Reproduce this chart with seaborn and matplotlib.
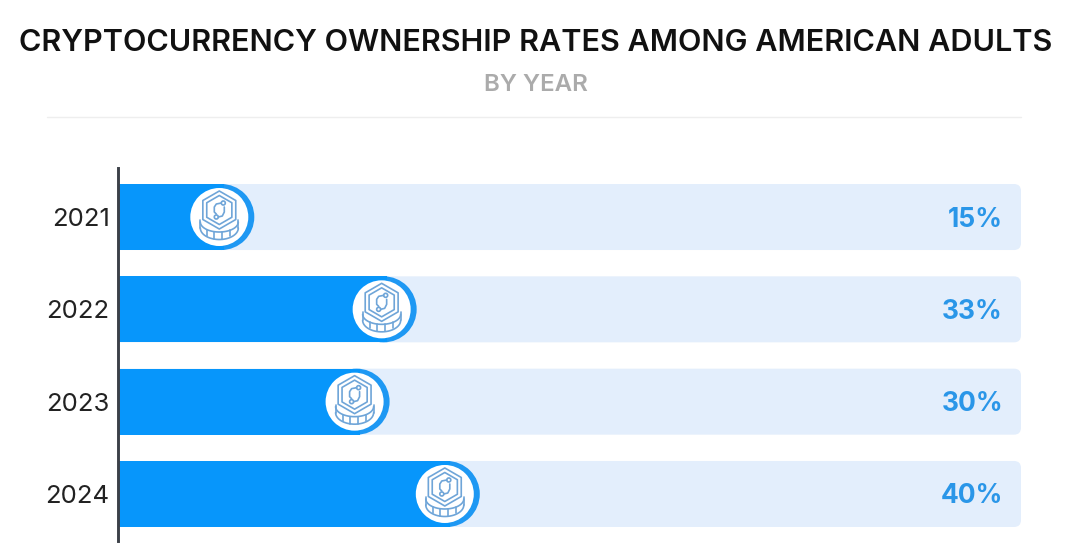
import numpy as np
import matplotlib
matplotlib.use("Agg")
import matplotlib.pyplot as plt
from matplotlib.lines import Line2D
from matplotlib.patches import Ellipse, FancyBboxPatch, Polygon
import seaborn as sns

years = ["2021", "2022", "2023", "2024"]
rates = [15, 33, 30, 40]
track = [100, 100, 100, 100]
rate_labels = ["15%", "33%", "30%", "40%"]

title = "CRYPTOCURRENCY OWNERSHIP RATES AMONG AMERICAN ADULTS"
subtitle = "BY YEAR"

W, H = 1074, 555
FONT = "Inter"
BLUE = "#0796FB"
RING = "#1E98F3"
TRACK = "#E3EEFC"
ICON = "#6FA5D8"

sns.set_style("white")
plt.rcParams["font.family"] = [FONT, "DejaVu Sans"]

fig = plt.figure(figsize=(W / 100, H / 100), dpi=100, facecolor="white")
ax = fig.add_axes([119 / W, 1 - 541 / H, (1021 - 119) / W, (541 - 168) / H])

# pixels per data unit
sx = 902 / 100
sy = 92.3
xlim = (0, 100)
ylim = (3 + 47 / sy, -49 / sy)

sns.barplot(x=track, y=years, orient="h", color=TRACK, saturation=1, width=66 / sy, linewidth=0, ax=ax)
n_track = len(ax.patches)
sns.barplot(x=rates, y=years, orient="h", color=BLUE, saturation=1, width=66 / sy, linewidth=0, ax=ax)


def round_track(bar, radius_px):
    # small round corners on the right, the left end is cut by the axes
    extra = radius_px / sx + 1
    y0 = min(bar.get_y(), bar.get_y() + bar.get_height())
    box = FancyBboxPatch(
        (-extra, y0), bar.get_width() + extra, abs(bar.get_height()),
        boxstyle=f"round,pad=0,rounding_size={radius_px / sx}",
        mutation_aspect=sx / sy, fc=TRACK, ec="none", zorder=1,
    )
    ax.add_patch(box)
    bar.set_visible(False)


def coin(x_end, row):
    cx = x_end - 35 / sx
    cy = row

    def pts(dx, dy):
        return cx + np.asarray(dx) / sx, cy + np.asarray(dy) / sy

    def oval(dx, dy, r, **kw):
        x0, y0 = pts(dx, dy)
        return Ellipse((x0, y0), 2 * r / sx, 2 * r / sy, **kw)

    # round end of the bar, then the white disc
    ax.add_patch(Ellipse((x_end - 33 / sx, cy), 66 / sx, 66 / sy, fc=RING, ec="none", zorder=1.5))
    ax.add_patch(oval(0, 0, 29, fc="white", ec="none", zorder=5))

    style = dict(color=ICON, lw=1.2, solid_capstyle="round")

    # coin rim under the hexagon
    t = np.linspace(0, np.pi, 30)
    x, y = pts(19 * np.cos(t), 11 + 11.5 * np.sin(t))
    ax.plot(x, y, zorder=6, **style)
    x, y = pts(19 * np.cos(t), 5 + 10 * np.sin(t))
    ax.plot(x, y, zorder=6, **style)
    for dx in (-19, 19):
        x, y = pts([dx, dx], [3, 11])
        ax.plot(x, y, zorder=6, **style)
    for dx, top, bottom in ((-12, 13, 19), (-5, 15, 22), (3, 15, 22), (11, 13, 19)):
        x, y = pts([dx, dx], [top, bottom])
        ax.plot(x, y, zorder=6, **style)

    ang = np.radians(np.arange(-90, 270, 60))
    for r, fc in ((19, "white"), (14.5, "none")):
        x, y = pts(r * np.cos(ang), -7 + r * np.sin(ang))
        ax.add_patch(Polygon(np.column_stack([x, y]), closed=True, fc=fc, ec=ICON,
                             lw=1.2, joinstyle="round", zorder=6))

    # circuit traces
    x, y = pts([2, -3, -5, -5, -3], [-14, -13, -10, -5, -3])
    ax.plot(x, y, zorder=7, **style)
    x, y = pts([5, 5, 3, -1], [-10, -5, -1, 0])
    ax.plot(x, y, zorder=7, **style)
    ax.add_patch(oval(4, -14, 2, fc="none", ec=ICON, lw=1.2, zorder=7))
    ax.add_patch(oval(-3, 0, 2, fc="none", ec=ICON, lw=1.2, zorder=7))


for bar in ax.patches[:n_track]:
    round_track(bar, 7)
for bar in ax.patches[n_track:n_track + len(rates)]:
    # leave room for the round end drawn in coin()
    bar.set_width(bar.get_width() - 30 / sx)
    bar.set_zorder(2)

for i, (v, lab) in enumerate(zip(rates, rate_labels)):
    coin(v, i)
    ax.text(98, i + 2.5 / sy, lab, ha="right", va="center", fontsize=19,
            fontweight="bold", color="#2A96E8", zorder=3)

ax.set_xlim(xlim)
ax.set_ylim(ylim)
ax.set_xlabel("")
ax.set_ylabel("")
ax.set_xticks([])
ax.tick_params(axis="y", length=0, pad=6, labelsize=18.5, labelcolor="#222222")
sns.despine(ax=ax, top=True, right=True, bottom=True)
ax.spines["left"].set_color("#3C4048")
ax.spines["left"].set_linewidth(2.1)
ax.spines["left"].set_position(("outward", 0.7))
ax.patch.set_alpha(0)

fig.text(535.5 / W, 1 - 51 / H, title, ha="center", va="baseline", fontsize=22,
         fontweight="semibold", color="#111111")
fig.text(535.5 / W, 1 - 91 / H, subtitle, ha="center", va="baseline", fontsize=17.3,
         fontweight="semibold", color="#ABABAB")
fig.add_artist(Line2D([47 / W, 1021 / W], [1 - 117 / H] * 2, color="#EEEEEE", lw=1.0))

fig.savefig("out.png", dpi=100)
